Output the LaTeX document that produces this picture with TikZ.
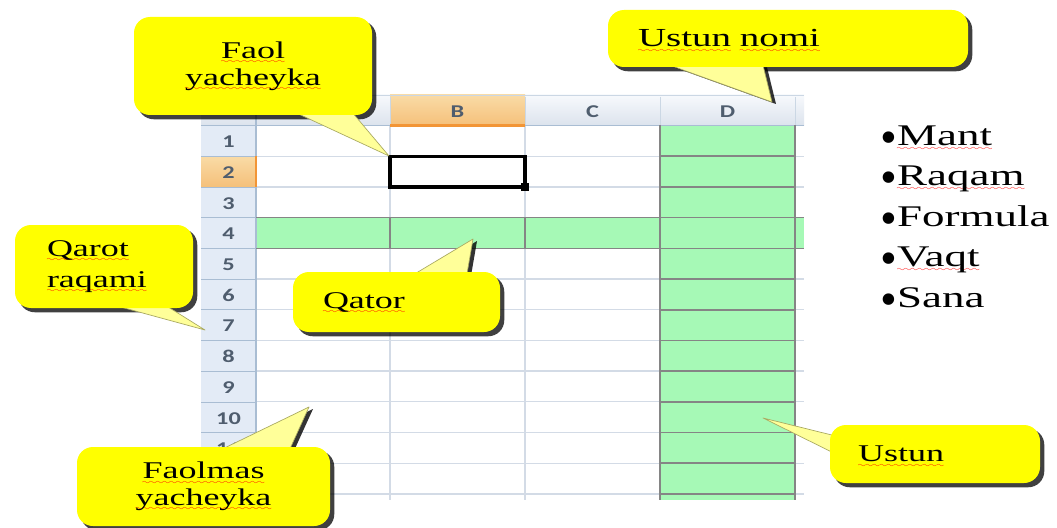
\documentclass[tikz,border=0pt]{standalone}
\usepackage{fontspec}
\setmainfont{Liberation Serif}
\newfontfamily\notefont[FakeStretch=1.5]{Liberation Serif}
\newfontfamily\dotfont{Liberation Serif}
\newfontfamily\sheetfont[FakeStretch=1.35]{Carlito}

\definecolor{noteyellow}{HTML}{FFFF00}
\definecolor{tipyellow}{HTML}{FFFF99}
\definecolor{tipedge}{HTML}{A8A860}
\definecolor{cellgreen}{HTML}{A6F9B6}
\definecolor{greenedge}{HTML}{858585}
\definecolor{gridline}{HTML}{D3DBE6}
\definecolor{headtop}{HTML}{F7F9FC}
\definecolor{headbottom}{HTML}{DCE3ED}
\definecolor{headedge}{HTML}{A9BDD3}
\definecolor{rowhead}{HTML}{E3EBF6}
\definecolor{seltop}{HTML}{F9DBA6}
\definecolor{selbottom}{HTML}{F5C07A}
\definecolor{seledge}{HTML}{F29536}
\definecolor{headtext}{HTML}{4F5D6E}

% red spell-check wave under a word
\font\wavefont=lasy6
\newsavebox\wordbox
\newcommand\squig[1]{\sbox\wordbox{#1}\leavevmode
  \rlap{\raisebox{-4pt}[0pt][0pt]{\color{red}\hbox to\wd\wordbox{\xleaders\hbox{\wavefont\char58}\hfil}}}%
  \usebox\wordbox}

\pgfdeclarelayer{sheet}
\pgfdeclarelayer{shade}
\pgfdeclarelayer{pointer}
\pgfsetlayers{sheet,shade,pointer,main}

\tikzset{
  notebox/.style={fill=noteyellow, rounded corners=12pt, inner sep=0pt,
    font=\notefont\fontsize{18}{20}\selectfont},
  boxshade/.style={fill=black, opacity=0.75, rounded corners=12pt,
    transform canvas={xshift=3pt, yshift=-3pt}},
  pointer/.style={fill=tipyellow, draw=tipedge, line width=0.5pt, line join=round},
  pointershade/.style={fill=black, opacity=0.8,
    transform canvas={xshift=3pt, yshift=-1.5pt}},
  headlabel/.style={font=\sheetfont\bfseries\fontsize{13.5}{13.5}\selectfont,
    text=headtext, inner sep=0pt},
  item/.style={font=\notefont\fontsize{22.5}{27}\selectfont, inner sep=0pt,
    anchor=base west},
}

\begin{document}
\begin{tikzpicture}[x=0.75pt, y=-0.75pt]
  \useasboundingbox (0,0) rectangle (1057,528);

  \begin{pgfonlayer}{sheet}
    \fill[white] (0,0) rectangle (1057,528);
    % column header band
    \shade[top color=headtop, bottom color=headbottom] (201,95) rectangle (804,125.5);
    \shade[top color=seltop, bottom color=selbottom] (390,95) rectangle (525,125.5);
    % row header column
    \fill[rowhead] (201,125.5) rectangle (256,500);
    \shade[top color=seltop, bottom color=selbottom] (201,156.2) rectangle (256,186.9);
    % green row 4 and column D
    \fill[cellgreen] (256,217.6) rectangle (804,248.3);
    \fill[cellgreen] (660,125.5) rectangle (795,500);
    % grid
    \foreach \r in {1,...,12}
      \draw[gridline, line width=1pt] (256,{125.5+30.7*\r}) -- (804,{125.5+30.7*\r});
    \foreach \x in {390,525,660,795}
      \draw[gridline, line width=1pt] (\x,125.5) -- (\x,500);
    \foreach \r in {1,...,12}
      \draw[headedge] (201,{125.5+30.7*\r}) -- (256,{125.5+30.7*\r});
    \foreach \x in {390,525,660,795}
      \draw[headedge!60] (\x,97) -- (\x,125.5);
    \draw[headedge!60] (201,95) -- (804,95);
    \draw[headedge, line width=1pt] (201,125.5) -- (804,125.5);
    \draw[headedge, line width=1pt] (256,95) -- (256,500);
    \draw[seledge, line width=1.5pt] (390,125.5) -- (525,125.5);
    \draw[seledge, line width=1.5pt] (256,156.2) -- (256,186.9);
    % borders of the green cells
    \draw[greenedge, line width=1.2pt] (256,217.6) -- (804,217.6) (256,248.3) -- (804,248.3);
    \foreach \x in {390,525}
      \draw[greenedge, line width=1.2pt] (\x,217.6) -- (\x,248.3);
    \draw[greenedge, line width=1.2pt] (660,125.5) -- (660,500) (795,125.5) -- (795,500);
    \foreach \r in {1,...,12}
      \draw[greenedge, line width=1.2pt] (660,{125.5+30.7*\r}) -- (795,{125.5+30.7*\r});
    % active cell B2
    \draw[line width=2.5pt] (390,156.2) rectangle (525,186.9);
    \fill (521,183) rectangle (529,191);
    % header letters and row numbers
    \foreach \c/\x in {B/457.5,C/592.5,D/727.5}
      \node[headlabel] (col\c) at (\x,111.5) {\c};
    \foreach \r in {1,...,12}
      \node[headlabel] (row\r) at (228.5,{111.2+30.7*\r}) {\r};
  \end{pgfonlayer}

  % callout boxes
  \node[notebox, minimum width=178.5pt, minimum height=73.5pt, align=center]
    (faol) at (253,66) {\squig{Faol}\\\squig{yacheyka}};
  \node[notebox, font=\notefont\fontsize{19.5}{23}\selectfont, minimum height=42.75pt,
    text width=225pt, inner xsep=22.5pt, align=left]
    (ustunnomi) at (788,38.5) {\squig{Ustun} \squig{nomi}};
  \node[notebox, font=\notefont\fontsize{18}{23}\selectfont, minimum height=62.25pt,
    text width=85.5pt, inner xsep=24pt, align=left]
    (qarot) at (104,266.5) {\squig{Qarot}\\\squig{raqami}};
  \node[notebox, minimum height=45pt, text width=110.25pt, inner xsep=22.5pt, align=left]
    (qator) at (396.5,302) {\squig{Qator}};
  \node[notebox, minimum width=189.75pt, minimum height=59.25pt, align=center]
    (faolmas) at (203.5,486.5) {\squig{Faolmas}\\\squig{yacheyka}};
  \node[notebox, minimum height=43.5pt, text width=115.5pt, inner xsep=21pt, align=left]
    (ustun) at (935,454) {\squig{Ustun}};

  % pointer tips
  \coordinate (faoltip) at (389,156);
  \coordinate (nomitip) at (772,102);
  \coordinate (qarottip) at (205,330);
  \coordinate (qatortip) at (473,239);
  \coordinate (faolmastip) at (309,407);
  \coordinate (ustuntip) at (763,418);

  \begin{pgfonlayer}{shade}
    \foreach \b in {faol,ustunnomi,qarot,qator,faolmas,ustun}
      \fill[boxshade] (\b.south west) rectangle (\b.north east);
    \fill[pointershade] ([shift={(-118,-2)}]ustunnomi.south) -- (nomitip)
      -- ([shift={(-25,-2)}]ustunnomi.south) -- cycle;
    \fill[pointershade] ([shift={(18.5,2)}]qator.north) -- (qatortip)
      -- ([shift={(70.5,2)}]qator.north) -- cycle;
    \fill[pointershade] ([shift={(19.5,2)}]faolmas.north) -- (faolmastip)
      -- ([shift={(86.5,2)}]faolmas.north) -- cycle;
  \end{pgfonlayer}

  \begin{pgfonlayer}{pointer}
    \draw[pointer] ([shift={(44,-2)}]faol.south) -- (faoltip)
      -- ([shift={(100,-2)}]faol.south) -- cycle;
    \draw[pointer] ([shift={(-118,-2)}]ustunnomi.south) -- (nomitip)
      -- ([shift={(-25,-2)}]ustunnomi.south) -- cycle;
    \draw[pointer] ([shift={(14,-2)}]qarot.south) -- (qarottip)
      -- ([shift={(63,-2)}]qarot.south) -- cycle;
    \draw[pointer] ([shift={(18.5,2)}]qator.north) -- (qatortip)
      -- ([shift={(70.5,2)}]qator.north) -- cycle;
    \draw[pointer] ([shift={(19.5,2)}]faolmas.north) -- (faolmastip)
      -- ([shift={(86.5,2)}]faolmas.north) -- cycle;
    \draw[pointer] ([shift={(2,-19)}]ustun.west) -- (ustuntip)
      -- ([shift={(2,-2)}]ustun.west) -- cycle;
  \end{pgfonlayer}

  % data types list
  \foreach \word [count=\i] in {\squig{Mant},\squig{Raqam},Formula,\squig{Vaqt},Sana}
    \node[item] (item\i) at (880,{145+40.5*(\i-1)})
      {{\dotfont\fontsize{36}{36}\selectfont\raisebox{-6pt}{•}}\word};
\end{tikzpicture}
\end{document}
